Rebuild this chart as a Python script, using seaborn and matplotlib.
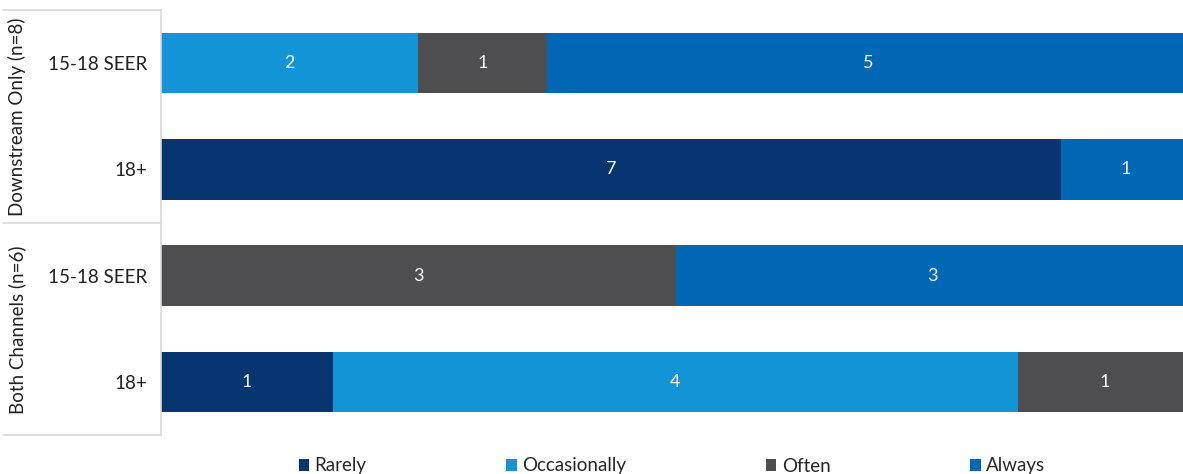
import numpy as np
import pandas as pd
import matplotlib
matplotlib.use("Agg")
import matplotlib.pyplot as plt
import seaborn as sns

# data
groups = ["Downstream Only (n=8)", "Downstream Only (n=8)", "Both Channels (n=6)", "Both Channels (n=6)"]
categories = ["15-18 SEER", "18+", "15-18 SEER", "18+"]
responses = ["Rarely", "Occasionally", "Often", "Always"]
rarely = [0, 7, 0, 1]
occasionally = [2, 0, 0, 4]
often = [1, 0, 3, 1]
always = [5, 1, 3, 0]
colors = ["#063570", "#1394d7", "#4e4e50", "#0067b4"]

sns.set_theme(style="white")
plt.rcParams["font.family"] = ["Lato", "DejaVu Sans"]

keys = [g + "|" + c for g, c in zip(groups, categories)]
counts = np.array([rarely, occasionally, often, always], dtype=float)
totals = counts.sum(axis=0)
shares = counts / totals
cum = shares.cumsum(axis=0)

df = pd.DataFrame({"key": keys})
for i, r in enumerate(responses):
    df[r + "_cum"] = cum[i]

fig = plt.figure(figsize=(11.83, 4.74), dpi=100)
# plot area runs a little past the right edge of the image, as in the original
ax = fig.add_axes([161 / 1183, 39 / 474, 1029 / 1183, 425 / 474])

# stacked bars: draw cumulative widths from the outermost inwards
for i in range(len(responses) - 1, -1, -1):
    sns.barplot(data=df, x=responses[i] + "_cum", y="key", order=keys, orient="h",
                color=colors[i], width=0.57, saturation=1, linewidth=0,
                ax=ax, label=responses[i])

# value labels
for j in range(len(keys)):
    for i in range(len(responses)):
        if counts[i, j] > 0:
            left = cum[i, j] - shares[i, j]
            ax.text(left + shares[i, j] / 2, j, f"{int(counts[i, j])}",
                    ha="center", va="center", color="white", fontsize=13)

ax.set_xlim(0, 1)
ax.set_ylim(3.5, -0.5)
ax.set_xlabel("")
ax.set_ylabel("")
ax.set_xticks([])
ax.set_yticks(range(len(keys)))
ax.set_yticklabels(categories, fontsize=13.5, color="#222222")
ax.tick_params(axis="y", length=0, pad=10)
for s in ["top", "right", "bottom"]:
    ax.spines[s].set_visible(False)
ax.spines["left"].set_color("#d9d9d9")
ax.spines["left"].set_linewidth(1.2)

# left table box lines
line_kw = dict(color="#d9d9d9", linewidth=1.2, transform=fig.transFigure)
for yy in [10, 223, 435]:
    fig.add_artist(plt.Line2D([3 / 1183, 161 / 1183], [1 - yy / 474, 1 - yy / 474], **line_kw))

# group labels
for g, yc in [(groups[0], 117), (groups[2], 330)]:
    fig.text(17 / 1183, 1 - yc / 474, g, rotation=90, ha="center", va="center",
             fontsize=13.5, color="#222222")

# legend
handles, labels = ax.get_legend_handles_labels()
order = [labels.index(r) for r in responses]
fig.legend([handles[k] for k in order], [labels[k] for k in order],
           loc="center", bbox_to_anchor=(672 / 1183, 1 - 466 / 474), ncol=4,
           frameon=False, fontsize=13.5, handlelength=0.55, handleheight=0.55,
           handletextpad=0.3, columnspacing=7.45)
if ax.get_legend() is not None:
    ax.get_legend().remove()

fig.savefig("out.png", dpi=100)
